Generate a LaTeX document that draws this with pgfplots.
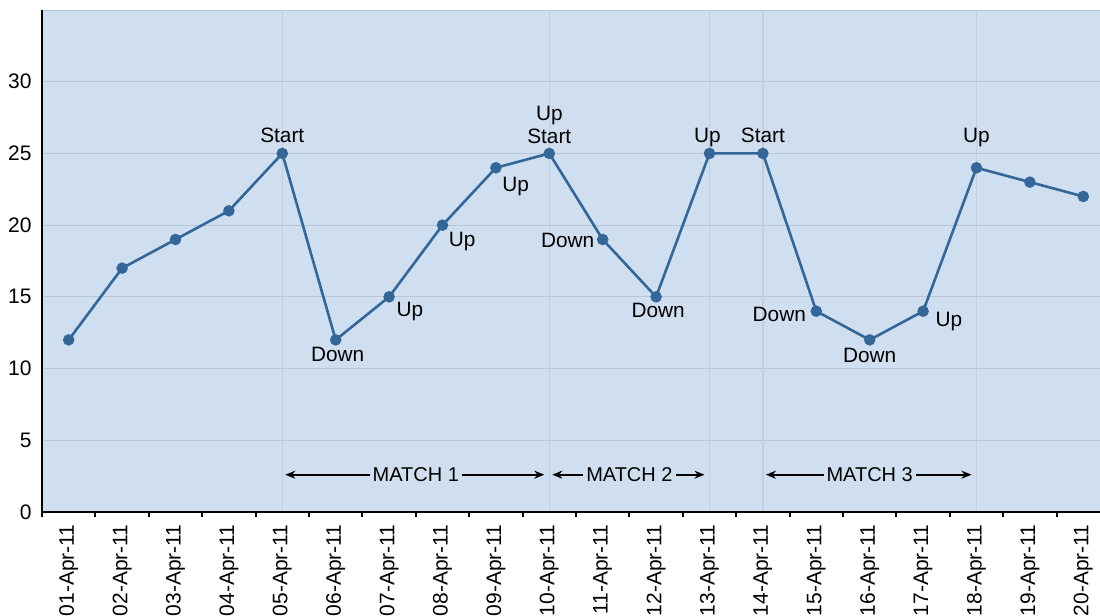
\documentclass[border=0pt]{standalone}
\usepackage{pgfplots}
\pgfplotsset{compat=1.18}
\usepackage{fontspec}
\setmainfont{Liberation Sans}
\usetikzlibrary{arrows.meta}

\definecolor{panel}{HTML}{D0DFEF}
\definecolor{series}{HTML}{336699}
\definecolor{hgrid}{HTML}{B9C6D3}
\definecolor{vgrid}{HTML}{C3CFDC}

\begin{document}
\begin{tikzpicture}[font=\fontsize{10}{11.5}\selectfont]
% page frame: the date labels run off the bottom edge, the plot off the right edge
\path[use as bounding box] (-21pt,-52pt) rectangle (529pt,256pt);
\clip (-21pt,-52pt) rectangle (529pt,256pt);
\begin{axis}[
  scale only axis,
  width=534pt, height=251pt,
  xmin=-0.5, xmax=19.5,
  ymin=0, ymax=35,
  clip=false,
  axis background/.style={fill=panel},
  axis line style={draw=hgrid, line width=0.5pt},
  tick align=outside,
  xtick pos=bottom, ytick pos=left,
  major tick length=0pt,
  xtick={0,...,19},
  xticklabels={01-Apr-11,02-Apr-11,03-Apr-11,04-Apr-11,05-Apr-11,06-Apr-11,07-Apr-11,08-Apr-11,09-Apr-11,10-Apr-11,11-Apr-11,12-Apr-11,13-Apr-11,14-Apr-11,15-Apr-11,16-Apr-11,17-Apr-11,18-Apr-11,19-Apr-11,20-Apr-11},
  minor xtick={-0.5,0.5,...,19.5},
  minor tick length=2.5pt,
  minor x tick style={black, line width=1pt},
  major x tick style={draw=none},
  major y tick style={draw=none},
  ytick={0,5,...,30},
  ymajorgrids,
  major grid style={hgrid, line width=0.6pt},
  /pgf/number format/assume math mode=true,
  tick label style={font=\fontsize{10.5}{12}\selectfont},
  x tick label style={rotate=90, anchor=east, inner sep=0pt, xshift=-6pt},
  y tick label style={anchor=east, inner sep=0pt, xshift=-5pt},
]
% match boundaries
\foreach \d in {4,9,12,13,17}{
  \edef\tmp{\noexpand\draw[vgrid, line width=0.6pt] (axis cs:\d,0) -- (axis cs:\d,35);}\tmp
}

\addplot[series, line width=1.3pt, mark=*, mark size=2.2pt,
  mark options={fill=series, draw=series}] coordinates {
  (0,12) (1,17) (2,19) (3,21) (4,25) (5,12) (6,15) (7,20) (8,24) (9,25)
  (10,19) (11,15) (12,25) (13,25) (14,14) (15,12) (16,14) (17,24) (18,23) (19,22)
};

% point labels
\begin{scope}[every node/.style={inner sep=0pt, font=\fontsize{10.4}{12}\selectfont}]
\node[anchor=base, yshift=5.5pt] at (axis cs:4,25) {Start};
\node[anchor=base, xshift=1pt, yshift=-11pt] at (axis cs:5,12) {Down};
\node[anchor=base west, xshift=3.5pt, yshift=-10pt] at (axis cs:6,15) {Up};
\node[anchor=base west, xshift=3pt, yshift=-10.5pt] at (axis cs:7,20) {Up};
\node[anchor=base west, xshift=3pt, yshift=-12pt] at (axis cs:8,24) {Up};
\node[anchor=base, yshift=5pt] at (axis cs:9,25) {Start};
\node[anchor=base, yshift=16.5pt] at (axis cs:9,25) {Up};
\node[anchor=base east, xshift=-4pt, yshift=-4pt] at (axis cs:10,19) {Down};
\node[anchor=base, xshift=1pt, yshift=-10.5pt] at (axis cs:11,15) {Down};
\node[anchor=base, xshift=-1pt, yshift=5.5pt] at (axis cs:12,25) {Up};
\node[anchor=base, yshift=5.5pt] at (axis cs:13,25) {Start};
\node[anchor=base east, xshift=-5pt, yshift=-5pt] at (axis cs:14,14) {Down};
\node[anchor=base, yshift=-11.5pt] at (axis cs:15,12) {Down};
\node[anchor=base west, xshift=6pt, yshift=-7.5pt] at (axis cs:16,14) {Up};
\node[anchor=base, yshift=12.5pt] at (axis cs:17,24) {Up};
\end{scope}

% match spans
\begin{scope}[black, line width=0.9pt, shorten <=1.5pt, shorten >=2.5pt,
  {Stealth[length=5pt, width=4pt]}-{Stealth[length=5pt, width=4pt]}]
\draw (axis cs:4,2.6) -- (axis cs:9,2.6)
  node[midway, fill=panel, inner xsep=1.5pt, inner ysep=1pt] {MATCH 1};
\draw (axis cs:9,2.6) -- (axis cs:12,2.6)
  node[midway, fill=panel, inner xsep=1.5pt, inner ysep=1pt] {MATCH 2};
\draw (axis cs:13,2.6) -- (axis cs:17,2.6)
  node[midway, fill=panel, inner xsep=1.5pt, inner ysep=1pt] {MATCH 3};
\end{scope}

% solid left and bottom axis lines
\draw[black, line width=1.4pt] (rel axis cs:0,1) -- (rel axis cs:0,0) -- (rel axis cs:1,0);
\end{axis}
\end{tikzpicture}
\end{document}
